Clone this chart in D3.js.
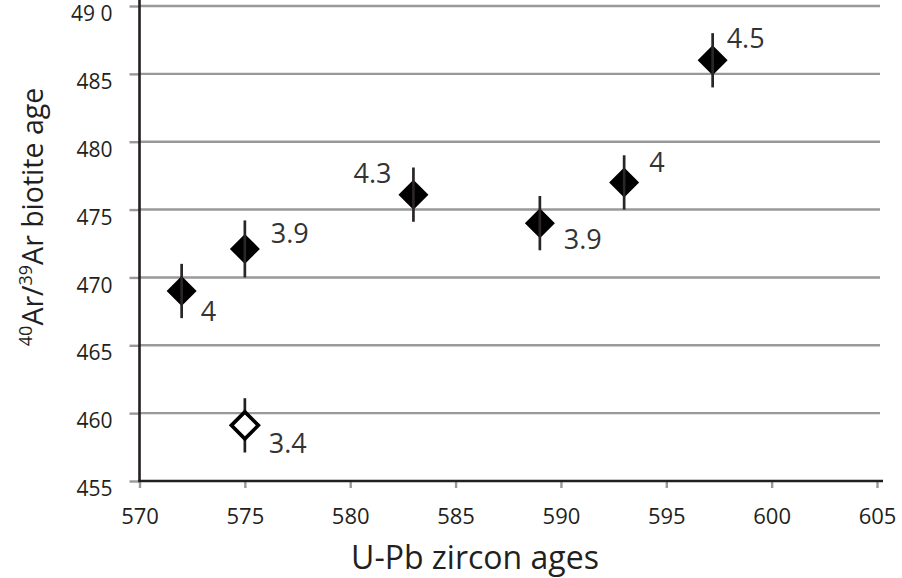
<!DOCTYPE html>
<html>
<head>
<meta charset="utf-8">
<script src="https://cdn.jsdelivr.net/npm/d3@7"></script>
<style>
  html, body { margin: 0; padding: 0; background: #fff; }
  svg { display: block; font-family: "Open Sans", "Noto Sans", sans-serif; }
</style>
</head>
<body>
<svg id="chart" width="902" height="578"></svg>
<script>
// ---- data ----
const uPbAges   = [572, 575, 583, 589, 593, 597.2, 575];
const arArAges  = [469, 472.1, 476.1, 474, 477, 486, 459.1];
const errors    = [2, 2.1, 2, 2, 2, 2, 2];
const isOpen    = [false, false, false, false, false, false, true];
const ratios    = ["4", "3.9", "4.3", "3.9", "4", "4.5", "3.4"];
const xTicks    = [570, 575, 580, 585, 590, 595, 600, 605];
const yTicks    = [455, 460, 465, 470, 475, 480, 485, 490];
const yTickText = ["455", "460", "465", "470", "475", "480", "485", "49 0"];

// label placement (dx, dy of baseline relative to point, anchor)
const labelPlace = [
  [19, 30, "start"], [26, -6, "start"], [-22, -12, "end"], [24, 26, "start"],
  [25, -10, "start"], [14, -12, "start"], [24, 28, "start"]
];

const ink = "#231f20";
const svg = d3.select("#chart");
const x = d3.scaleLinear().domain([570, 605]).range([139.5, 877]);
const y = d3.scaleLinear().domain([455, 490]).range([481, 6]);

// gridlines
svg.append("g").selectAll("line").data(yTicks.slice(1)).join("line")
  .attr("x1", x(570)).attr("x2", 880)
  .attr("y1", d => y(d)).attr("y2", d => y(d))
  .attr("stroke", "#999").attr("stroke-width", 2.4);

// y axis ticks + labels
const yAxis = d3.axisLeft(y).tickValues(yTicks).tickSize(10).tickPadding(17)
  .tickFormat((d, i) => yTickText[i]);
const gy = svg.append("g").attr("transform", `translate(${x(570)},0)`).call(yAxis);
gy.select(".domain").remove();
gy.selectAll(".tick line").attr("stroke", "#999").attr("stroke-width", 2.4);
gy.selectAll(".tick text").attr("fill", ink).attr("font-size", 21)
  .attr("font-family", "Open Sans").attr("dy", "0.7em");

// x axis ticks + labels
const xAxis = d3.axisBottom(x).tickValues(xTicks).tickSize(7).tickPadding(10)
  .tickFormat(d3.format("d"));
const gx = svg.append("g").attr("transform", `translate(0,${y(455)})`).call(xAxis);
gx.select(".domain").remove();
gx.selectAll(".tick line").attr("stroke", "#999").attr("stroke-width", 2.4);
gx.selectAll(".tick text").attr("fill", ink).attr("font-size", 22)
  .attr("font-family", "Open Sans").attr("dy", "1.2em");

// axis lines
svg.append("line").attr("x1", x(570)).attr("x2", x(570)).attr("y1", 0).attr("y2", y(455))
  .attr("stroke", ink).attr("stroke-width", 2.6);
svg.append("line").attr("x1", x(570) - 1.3).attr("x2", 883).attr("y1", y(455)).attr("y2", y(455))
  .attr("stroke", ink).attr("stroke-width", 2.6);

// points
const pts = uPbAges.map((d, i) => ({ x: d, y: arArAges[i], e: errors[i], open: isOpen[i], t: ratios[i], p: labelPlace[i] }));
const diamond = (cx, cy, r) => `M${cx},${cy - r}L${cx + r},${cy}L${cx},${cy + r}L${cx - r},${cy}Z`;

const gp = svg.append("g");
pts.forEach(p => {
  const cx = x(p.x), cy = y(p.y);
  if (p.open) {
    gp.append("line").attr("x1", cx).attr("x2", cx).attr("y1", y(p.y + p.e)).attr("y2", y(p.y - p.e))
      .attr("stroke", ink).attr("stroke-width", 2.7);
    gp.append("path").attr("d", diamond(cx, cy, 13.5)).attr("fill", "#fff")
      .attr("stroke", "#000").attr("stroke-width", 3.6);
  } else {
    gp.append("path").attr("d", diamond(cx, cy, 15)).attr("fill", "#000");
    gp.append("line").attr("x1", cx).attr("x2", cx).attr("y1", y(p.y + p.e)).attr("y2", y(p.y - p.e))
      .attr("stroke", "#2a2627").attr("stroke-width", 2.7);
  }
  gp.append("text").attr("x", cx + p.p[0]).attr("y", cy + p.p[1])
    .attr("text-anchor", p.p[2]).attr("font-size", 27).attr("fill", "#333")
    .text(p.t);
});

// axis titles
svg.append("text").attr("x", 475).attr("y", 569).attr("text-anchor", "middle")
  .attr("font-size", 32).attr("fill", ink).text("U-Pb zircon ages");

const yt = svg.append("text").attr("transform", "translate(43,217) rotate(-90)")
  .attr("text-anchor", "middle").attr("font-size", 28.5).attr("fill", ink);
yt.append("tspan").attr("font-size", 18).attr("dy", -11).text("40");
yt.append("tspan").attr("dy", 11).text("Ar/");
yt.append("tspan").attr("font-size", 18).attr("dy", -11).text("39");
yt.append("tspan").attr("dy", 11).text("Ar biotite age");
</script>
</body>
</html>
